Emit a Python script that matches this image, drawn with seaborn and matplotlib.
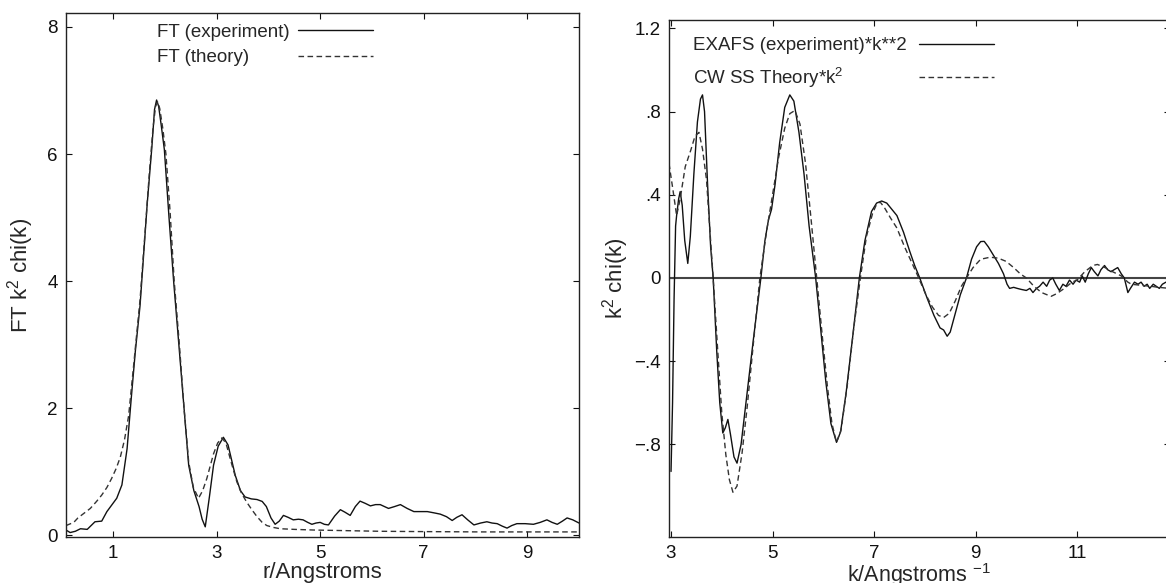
import matplotlib
matplotlib.use("Agg")
import matplotlib.pyplot as plt
import seaborn as sns

# ---- left panel: Fourier transform |FT k^2 chi(k)| vs r ----
r_exp = [0.09, 0.17, 0.27, 0.37, 0.50, 0.65, 0.78, 0.88, 1.07, 1.17, 1.27, 1.35, 1.43, 1.52,
         1.66, 1.75, 1.80, 1.84, 1.88, 1.93, 1.99, 2.08, 2.17, 2.27, 2.37, 2.46, 2.56, 2.66,
         2.72, 2.78, 2.86, 2.94, 3.03, 3.13, 3.22, 3.36, 3.46, 3.55, 3.67, 3.78, 3.88, 3.96,
         4.05, 4.13, 4.21, 4.29, 4.38, 4.48, 4.58, 4.67, 4.76, 4.84, 4.92, 5.00, 5.08, 5.16,
         5.28, 5.39, 5.48, 5.58, 5.68, 5.77, 5.87, 5.97, 6.07, 6.16, 6.24, 6.32, 6.44, 6.55,
         6.68, 6.81, 6.94, 7.07, 7.20, 7.32, 7.44, 7.55, 7.64, 7.74, 7.85, 7.97, 8.10, 8.22,
         8.32, 8.42, 8.52, 8.61, 8.70, 8.80, 8.96, 9.12, 9.25, 9.38, 9.48, 9.58, 9.68, 9.77,
         9.88, 10.0]
ft_exp = [0.08, 0.04, 0.06, 0.10, 0.09, 0.21, 0.22, 0.37, 0.58, 0.79, 1.36, 2.15, 2.90, 3.61,
          5.23, 6.12, 6.70, 6.85, 6.75, 6.45, 6.07, 5.00, 3.99, 3.00, 2.00, 1.10, 0.70, 0.45,
          0.25, 0.13, 0.60, 1.10, 1.40, 1.54, 1.42, 0.94, 0.70, 0.60, 0.57, 0.56, 0.53, 0.45,
          0.27, 0.17, 0.22, 0.31, 0.28, 0.24, 0.25, 0.24, 0.20, 0.17, 0.19, 0.20, 0.17, 0.16,
          0.30, 0.40, 0.36, 0.31, 0.45, 0.535, 0.50, 0.46, 0.48, 0.48, 0.45, 0.42, 0.45, 0.48,
          0.42, 0.37, 0.37, 0.37, 0.35, 0.33, 0.29, 0.23, 0.28, 0.32, 0.24, 0.16, 0.19, 0.21,
          0.19, 0.18, 0.14, 0.11, 0.15, 0.18, 0.18, 0.17, 0.20, 0.24, 0.20, 0.17, 0.22, 0.27,
          0.24, 0.19]

r_th = [0.09, 0.24, 0.32, 0.40, 0.56, 0.68, 0.78, 0.88, 0.97, 1.06, 1.14, 1.22, 1.30, 1.40,
        1.52, 1.62, 1.70, 1.77, 1.82, 1.86, 1.90, 1.96, 2.02, 2.10, 2.18, 2.28, 2.37, 2.46,
        2.55, 2.65, 2.73, 2.81, 2.94, 3.02, 3.10, 3.18, 3.28, 3.39, 3.48, 3.58, 3.68, 3.78,
        3.88, 3.97, 4.10, 4.23, 4.50, 4.87, 5.50, 6.16, 7.00, 8.09, 9.00, 10.0]
ft_th = [0.15, 0.20, 0.27, 0.32, 0.42, 0.53, 0.63, 0.75, 0.89, 1.05, 1.23, 1.50, 1.88, 2.70,
         3.70, 4.80, 5.70, 6.40, 6.75, 6.82, 6.72, 6.40, 6.00, 5.10, 4.00, 3.00, 2.00, 1.15,
         0.75, 0.58, 0.70, 0.89, 1.28, 1.45, 1.53, 1.45, 1.15, 0.84, 0.66, 0.52, 0.40, 0.29,
         0.20, 0.15, 0.12, 0.10, 0.09, 0.08, 0.07, 0.06, 0.055, 0.05, 0.05, 0.05]

# ---- right panel: k^2 chi(k) vs k ----
k_exp = [3.00, 3.03, 3.06, 3.09, 3.11, 3.15, 3.18, 3.22, 3.27, 3.33, 3.38, 3.45, 3.52, 3.58,
         3.62, 3.66, 3.72, 3.78, 3.83, 3.90, 3.96, 4.02, 4.07, 4.12, 4.17, 4.24, 4.30, 4.38,
         4.50, 4.62, 4.77, 4.85, 4.92, 4.98, 5.05, 5.14, 5.24, 5.34, 5.42, 5.52, 5.62, 5.72,
         5.85, 5.95, 6.05, 6.15, 6.26, 6.34, 6.45, 6.58, 6.71, 6.82, 6.95, 7.05, 7.15, 7.25,
         7.35, 7.45, 7.58, 7.70, 7.80, 7.90, 8.05, 8.18, 8.30, 8.37, 8.44, 8.50, 8.60, 8.70,
         8.82, 8.92, 9.02, 9.10, 9.17, 9.25, 9.35, 9.45, 9.55, 9.62, 9.67, 9.75, 9.82, 9.90,
         10.0, 10.07, 10.13, 10.20, 10.26, 10.33, 10.40, 10.46, 10.52, 10.58, 10.65, 10.72,
         10.78, 10.85, 10.92, 10.98, 11.05, 11.10, 11.16, 11.22, 11.28, 11.34, 11.41, 11.47,
         11.54, 11.60, 11.67, 11.73, 11.80, 11.87, 11.93, 11.97, 12.00, 12.05, 12.13, 12.20,
         12.26, 12.32, 12.38, 12.43, 12.50, 12.56, 12.62, 12.68, 12.75, 12.83]
chi_exp = [-0.93, -0.60, -0.10, 0.25, 0.30, 0.38, 0.415, 0.35, 0.18, 0.07, 0.20, 0.50, 0.75, 0.86,
           0.88, 0.80, 0.45, 0.15, 0.0, -0.35, -0.60, -0.745, -0.72, -0.68, -0.75, -0.86, -0.89, -0.80,
           -0.55, -0.30, 0.0, 0.18, 0.28, 0.33, 0.45, 0.65, 0.82, 0.88, 0.85, 0.70, 0.50, 0.25,
           0.0, -0.25, -0.50, -0.70, -0.79, -0.74, -0.55, -0.28, 0.0, 0.18, 0.32, 0.36, 0.37, 0.36,
           0.33, 0.30, 0.22, 0.13, 0.06, 0.0, -0.10, -0.18, -0.24, -0.25, -0.28, -0.26, -0.17, -0.08,
           0.0, 0.09, 0.15, 0.175, 0.176, 0.15, 0.11, 0.07, 0.02, -0.03, -0.05, -0.045, -0.05, -0.055,
           -0.06, -0.05, -0.07, -0.05, -0.04, -0.02, -0.04, -0.01, 0.0, -0.03, -0.06, -0.03,
           -0.04, -0.01, -0.03, -0.01, -0.02, 0.01, -0.02, 0.02, 0.05, 0.03, 0.01, 0.04,
           0.06, 0.04, 0.03, 0.04, 0.05, 0.02, 0.0, -0.04, -0.07, -0.05, -0.02, -0.03,
           -0.02, -0.04, -0.03, -0.05, -0.03, -0.04, -0.05, -0.03, -0.02, -0.03]

k_th = [2.96, 3.04, 3.11, 3.18, 3.28, 3.39, 3.47, 3.55, 3.62, 3.70, 3.76, 3.83, 3.92, 4.00,
        4.08, 4.15, 4.22, 4.30, 4.40, 4.50, 4.62, 4.75, 4.88, 5.00, 5.12, 5.24, 5.34, 5.44,
        5.54, 5.65, 5.76, 5.87, 5.98, 6.08, 6.17, 6.26, 6.35, 6.47, 6.60, 6.73, 6.85, 6.97,
        7.05, 7.12, 7.20, 7.32, 7.45, 7.60, 7.75, 7.88, 8.02, 8.15, 8.27, 8.37, 8.48, 8.60,
        8.72, 8.82, 8.95, 9.10, 9.29, 9.45, 9.60, 9.75, 9.88, 10.0, 10.15, 10.30, 10.40, 10.49,
        10.60, 10.75, 10.90, 11.00, 11.15, 11.31, 11.40, 11.55, 11.70, 11.87, 12.00, 12.07,
        12.25, 12.46, 12.60, 12.83]
chi_th = [0.55, 0.42, 0.30, 0.38, 0.535, 0.615, 0.68, 0.70, 0.62, 0.47, 0.25, 0.0, -0.35, -0.65,
          -0.85, -0.97, -1.03, -1.00, -0.84, -0.62, -0.32, 0.0, 0.22, 0.40, 0.58, 0.72, 0.79, 0.805,
          0.74, 0.55, 0.28, 0.0, -0.28, -0.52, -0.70, -0.79, -0.73, -0.52, -0.24, 0.0, 0.20, 0.31,
          0.355, 0.365, 0.34, 0.29, 0.24, 0.15, 0.07, 0.0, -0.08, -0.14, -0.18, -0.19, -0.17, -0.11,
          -0.04, 0.0, 0.05, 0.09, 0.10, 0.095, 0.08, 0.05, 0.02, 0.0, -0.04, -0.07, -0.08, -0.088,
          -0.075, -0.05, -0.02, -0.01, 0.03, 0.06, 0.065, 0.05, 0.03, 0.01, -0.02, -0.03,
          -0.035, -0.04, -0.045, -0.05]

r_ticks = [1, 3, 5, 7, 9]
ft_ticks = [0, 2, 4, 6, 8]
k_ticks = [3, 5, 7, 9, 11]
chi_ticks = [-0.8, -0.4, 0, 0.4, 0.8, 1.2]
chi_tick_labels = ["\u2212.8", "\u2212.4", "0", ".4", ".8", "1.2"]

sns.set_style("ticks")
plt.rcParams["font.family"] = ["Liberation Sans", "DejaVu Sans"]
plt.rcParams["mathtext.default"] = "regular"
plt.rcParams["font.size"] = 13.5

fig = plt.figure(figsize=(11.66, 5.83), dpi=100)
ax1 = fig.add_axes([66 / 1166, 46 / 583, 513 / 1166, 524 / 583])
ax2 = fig.add_axes([669 / 1166, 46 / 583, 501 / 1166, 517 / 583])

solid_c = "#111111"
dash_c = "#333333"

sns.lineplot(x=r_exp, y=ft_exp, ax=ax1, color=solid_c, lw=1.0, estimator=None,
             sort=False, label="FT (experiment)")
sns.lineplot(x=r_th, y=ft_th, ax=ax1, color=dash_c, lw=1.0, estimator=None,
             sort=False, linestyle=(0, (4, 2.5)), label="FT (theory)")

ax2.axhline(0, color="#444444", lw=1.5, zorder=1)
sns.lineplot(x=k_exp, y=chi_exp, ax=ax2, color=solid_c, lw=1.0, estimator=None,
             sort=False, label="EXAFS (experiment)*k**2")
sns.lineplot(x=k_th, y=chi_th, ax=ax2, color=dash_c, lw=1.0, estimator=None,
             sort=False, linestyle=(0, (4, 2.5)), label="CW SS Theory*k$^2$")

ax1.set_xlim(0.09, 10.0)
ax1.set_ylim(-0.03, 8.22)
ax1.set_xticks(r_ticks)
ax1.set_yticks(ft_ticks)
ax1.set_xlabel("r/Angstroms", fontsize=16, labelpad=0)
ax1.set_ylabel("FT k$^2$ chi(k)", fontsize=16, labelpad=8)

ax2.set_xlim(2.96, 12.83)
ax2.set_ylim(-1.245, 1.24)
ax2.set_xticks(k_ticks)
ax2.set_yticks(chi_ticks, chi_tick_labels)
ax2.set_xlabel("k/Angstroms $^{-1}$", fontsize=15.5, labelpad=-1)
ax2.set_ylabel("k$^2$ chi(k)", fontsize=16, labelpad=2)

for ax in (ax1, ax2):
    ax.tick_params(direction="in", length=4, width=0.8, top=True, right=True,
                   labelsize=13.5, pad=6, colors="#111111")
    for sp in ax.spines.values():
        sp.set_color("#222222")
        sp.set_linewidth(1.0)


def left_aligned_legend(ax, anchor, row_width, spacing):
    # labels left, keys right, keys lined up in one column
    leg = ax.legend(loc="upper left", bbox_to_anchor=anchor, frameon=False,
                    markerfirst=False, handlelength=4.0, handletextpad=0.4,
                    borderpad=0, borderaxespad=0, labelspacing=spacing, fontsize=13.5)
    for col in leg._legend_handle_box.get_children():
        for row in col.get_children():
            row.mode = "expand"
            row.width = row_width
    return leg


left_aligned_legend(ax1, (0.177, 0.98), 216, 0.45)
left_aligned_legend(ax2, (0.048, 0.967), 301, 0.6)

fig.savefig("out.png", dpi=100)
